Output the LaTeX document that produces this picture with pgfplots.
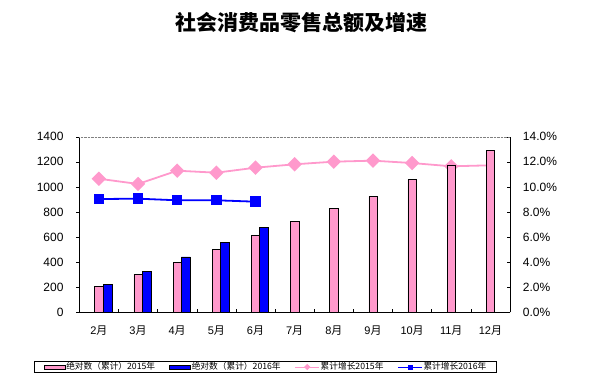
\documentclass[border=0pt]{standalone}
\usepackage{pgfplots}
\pgfplotsset{compat=1.18}
\usepackage{fontspec}
\setmainfont{Liberation Sans}
\newfontfamily\cjk{Noto Sans CJK SC}
\definecolor{pinkc}{HTML}{FF99CC}
\definecolor{bluec}{HTML}{0000FF}
\begin{document}
\begin{tikzpicture}
\useasboundingbox (0,0) rectangle (612pt,389pt);
\node[font=\cjk\bfseries\fontsize{21}{24}\selectfont] at (301pt,366.5pt) {社会消费品零售总额及增速};
% growth axis (right)
\begin{axis}[
  at={(79.3pt,76.7pt)}, anchor=south west, scale only axis,
  width=430.7pt, height=175.6pt,
  xmin=0.5, xmax=11.5, ymin=0, ymax=14,
  axis x line=none, axis y line*=right,
  ytick={0,2,...,14},
  yticklabel={\pgfmathprintnumber[fixed,fixed zerofill,precision=1]{\tick}\%},
  /pgf/number format/assume math mode=true,
  yticklabel style={font=\fontsize{12}{14}\selectfont, anchor=west, inner sep=0pt, xshift=12.7pt},
  tick align=inside, major tick length=3pt,
  tick style={black, thin},
  axis line style={black, thin},
  clip=false,
]
\addplot[pinkc, line width=1.8pt, mark=square*, mark size=4.2pt,
  mark options={rotate=45, solid}, mark indices={1,2,3,4,5,6,7,8,9,10}]
  coordinates {(1,10.65)(2,10.23)(3,11.29)(4,11.13)(5,11.53)(6,11.80)(7,12.01)(8,12.09)(9,11.90)(10,11.64)(11,11.72)};
\addplot[bluec, line width=1.8pt, mark=square*, mark size=4.3pt, mark options={solid}]
  coordinates {(1,9.03)(2,9.06)(3,8.93)(4,8.93)(5,8.82)};
\end{axis}
% amount axis (left)
\begin{axis}[
  at={(79.3pt,76.7pt)}, anchor=south west, scale only axis,
  width=430.7pt, height=175.6pt,
  xmin=0.5, xmax=11.5, ymin=0, ymax=1400,
  axis x line*=bottom, axis y line*=left,
  ytick={0,200,...,1400},
  /pgf/number format/assume math mode=true,
  /pgf/number format/1000 sep={},
  yticklabel style={font=\fontsize{12}{14}\selectfont, anchor=east, inner sep=0pt, xshift=-12.6pt},
  xtick={1,2,3,4,5,6,7,8,9,10,11},
  xticklabels={2{\cjk 月},3{\cjk 月},4{\cjk 月},5{\cjk 月},6{\cjk 月},7{\cjk 月},8{\cjk 月},9{\cjk 月},10{\cjk 月},11{\cjk 月},12{\cjk 月}},
  xticklabel style={font=\fontsize{11}{13}\selectfont, yshift=-7pt},
  minor xtick={1.5,2.5,3.5,4.5,5.5,6.5,7.5,8.5,9.5,10.5},
  tick align=outside, major tick length=3pt, minor tick length=3pt,
  tick style={black, thin},
  every major x tick/.append style={draw=none},
  every minor x tick/.append style={yshift=3pt},
  axis line style={black, thin},
  clip=false,
  legend columns=4,
  legend cell align=left,
  legend style={at={(0.4323,-0.3115)}, anchor=center, draw=black, line width=0.8pt,
    font=\cjk\fontsize{8.7}{9.5}\selectfont, inner xsep=9pt, inner ysep=0.3pt,
    nodes={inner sep=1pt},
    /tikz/every even column/.append style={column sep=13pt}},
]
\addlegendimage{legend image code/.code={\draw[fill=pinkc,draw=black,line width=0.6pt] (0pt,-2pt) rectangle (21pt,2pt);}}
\addlegendentry{绝对数（累计）2015年}
\addlegendimage{legend image code/.code={\draw[fill=bluec,draw=black,line width=0.6pt] (0pt,-2pt) rectangle (21pt,2pt);}}
\addlegendentry{绝对数（累计）2016年}
\addlegendimage{legend image code/.code={\draw[pinkc,line width=1pt] (0pt,0pt) -- (24pt,0pt); \fill[pinkc] (12pt,2.5pt) -- (14.5pt,0pt) -- (12pt,-2.5pt) -- (9.5pt,0pt) -- cycle;}}
\addlegendentry{累计增长2015年}
\addlegendimage{legend image code/.code={\draw[bluec,line width=1pt] (0pt,0pt) -- (24pt,0pt); \fill[bluec] (10pt,-2pt) rectangle (14pt,2pt);}}
\addlegendentry{累计增长2016年}
\addplot[ybar, bar width=8.3pt, bar shift=0pt, fill=pinkc, draw=black, line width=0.6pt, forget plot]
  coordinates {(1,205)(2,303)(3,398)(4,502)(5,614)(6,725)(7,829)(8,925)(9,1060)(10,1170)(11,1291)};
\addplot[ybar, bar width=9pt, bar shift=8.65pt, fill=bluec, draw=black, line width=0.6pt, forget plot]
  coordinates {(1,223)(2,324)(3,441)(4,558)(5,677)};
\draw[gray, densely dotted] (rel axis cs:0,1) -- (rel axis cs:1,1);
\end{axis}
\end{tikzpicture}
\end{document}
